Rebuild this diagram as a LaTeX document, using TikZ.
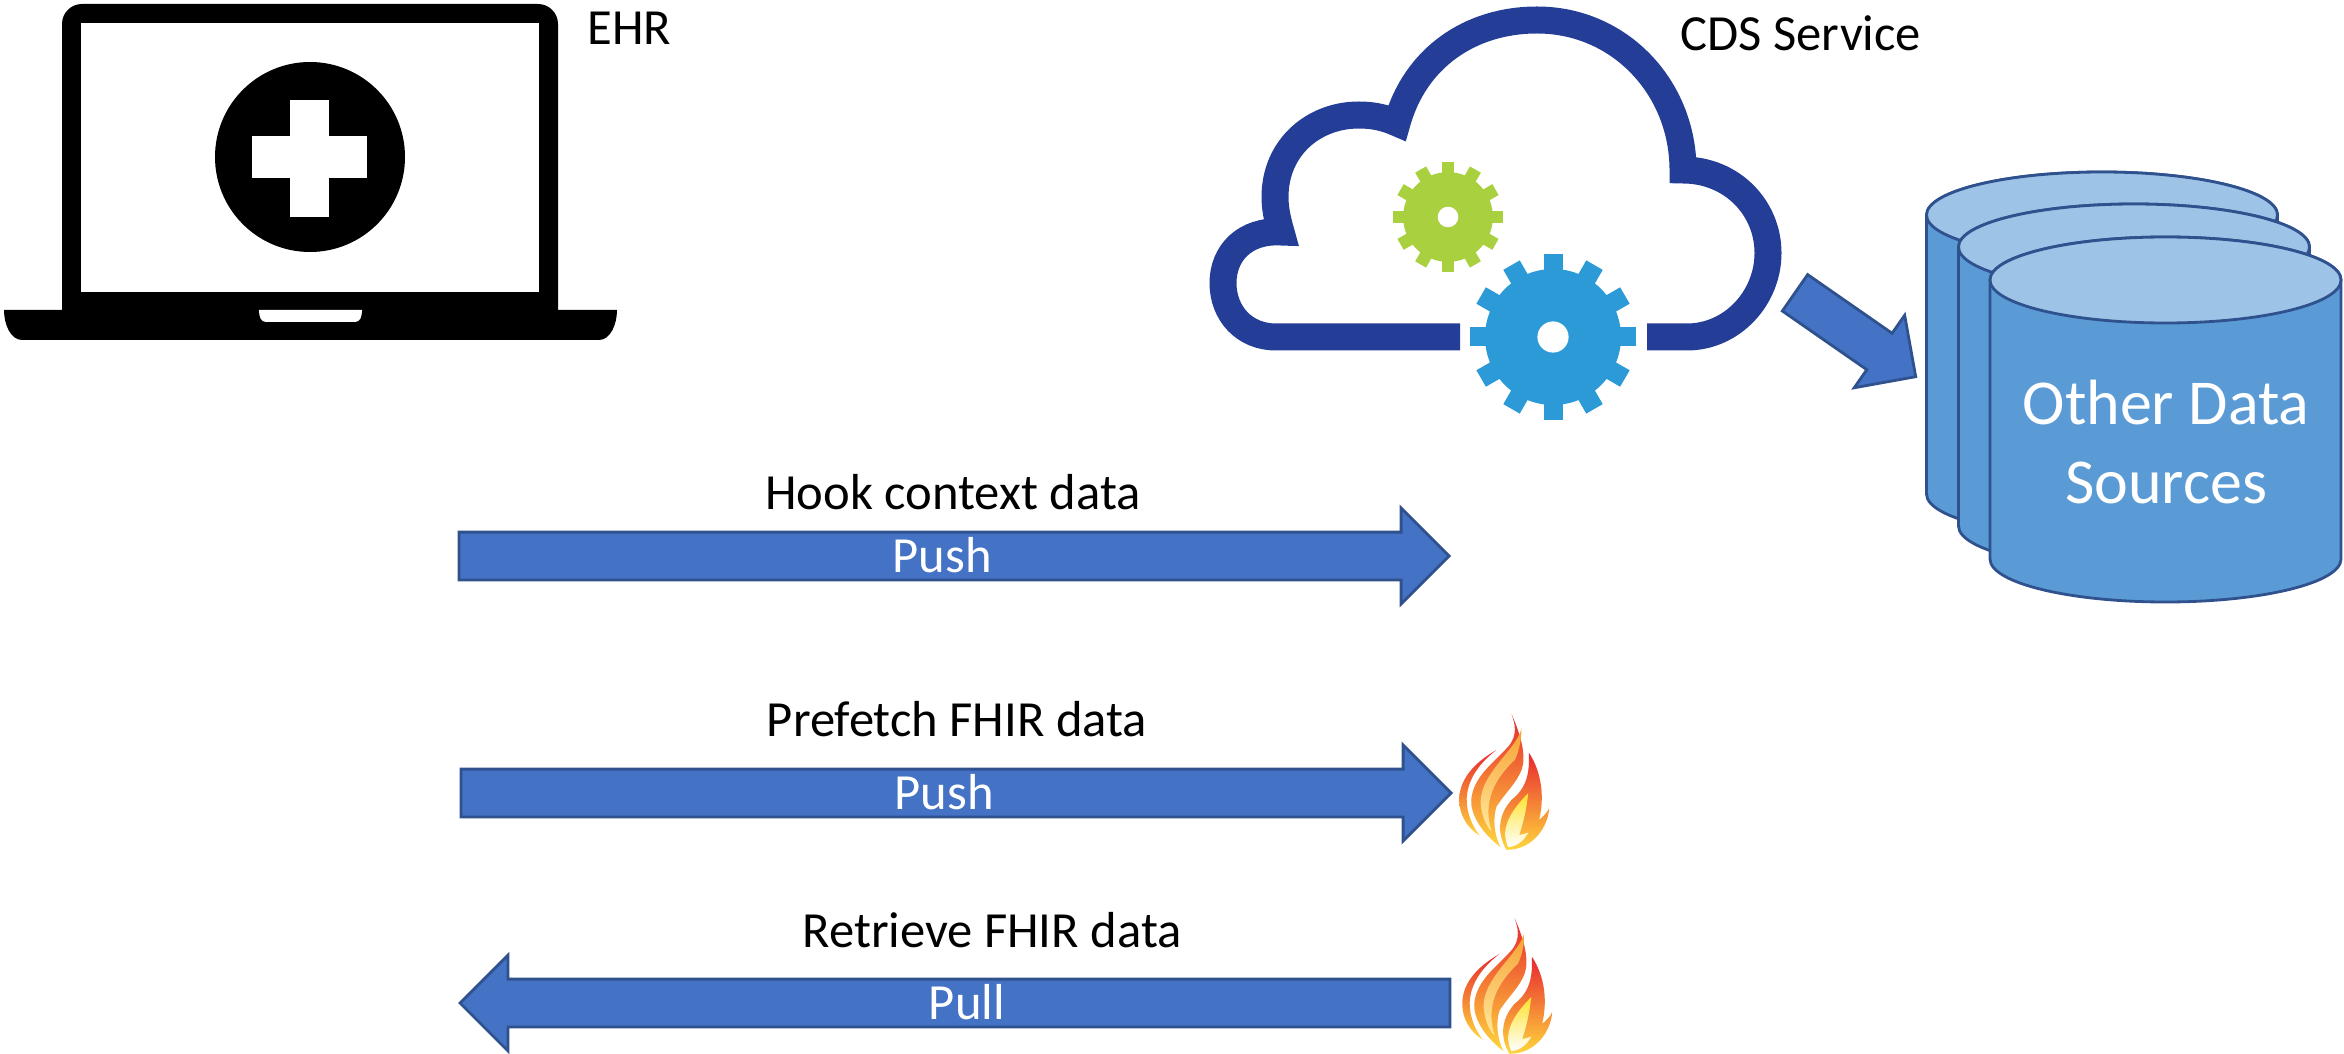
\documentclass[tikz,border=0pt]{standalone}
\usepackage{xcolor}
\usepackage{fontspec}
\usetikzlibrary{shapes.arrows}
\setmainfont{Carlito}
\definecolor{arrowblue}{RGB}{68, 114, 196}
\definecolor{arrowline}{RGB}{47, 82, 143}
\definecolor{storebody}{RGB}{91, 155, 213}
\definecolor{storetop}{RGB}{157, 195, 230}
\definecolor{cloudblue}{RGB}{36, 61, 150}
\definecolor{gearblue}{RGB}{45, 154, 216}
\definecolor{geargreen}{RGB}{169, 208, 63}
\definecolor{flamered}{RGB}{232, 38, 47}
\definecolor{flameorange}{RGB}{247, 160, 50}
\definecolor{flameyellow}{RGB}{255, 214, 60}
\tikzset{
  flowlabel/.style={font=\fontsize{14.4}{17}\selectfont},
  flowarrow/.style={single arrow, draw=arrowline, fill=arrowblue, line width=.8pt,
    single arrow head extend=.24cm, inner xsep=0pt, inner ysep=.02cm, anchor=tip,
    text height=.37cm, text depth=.04cm, outer sep=0pt,
    text=white, font=\fontsize{14.4}{17}\selectfont},
  datastore/.pic={
    \filldraw[fill=storebody, draw=arrowline, line width=.8pt] (-1.755,0) -- (-1.755,-2.79)
      arc[start angle=180, end angle=360, x radius=1.755, y radius=.43] -- (1.755,0)
      arc[start angle=0, end angle=180, x radius=1.755, y radius=.43] -- cycle;
    \filldraw[fill=storetop, draw=arrowline, line width=.8pt] (0,0) ellipse (1.755 and .43);
  },
  gearwheel/.pic={
    \fill (0,0) circle (.68);
    \foreach \a in {0,30,...,330}
      \fill[rotate=\a] (-.095,.5) rectangle (.095,.83);
    \fill[white] (0,0) circle (.156);
  },
  flame/.pic={
    \begin{scope}[x=.0333mm, y=-.0333mm]
      \shade[top color=flamered, middle color=flameorange, bottom color=flameyellow]
        (350,150) .. controls (280,190) and (238,240) .. (238,300)
        .. controls (238,345) and (262,385) .. (300,408)
        .. controls (270,370) and (255,320) .. (262,280)
        .. controls (270,225) and (310,180) .. (350,150) -- cycle;
      \shade[top color=flamered, middle color=flameorange, bottom color=flameyellow]
        (395,42) .. controls (425,110) and (440,170) .. (425,210)
        .. controls (410,250) and (375,280) .. (350,320)
        .. controls (340,350) and (340,400) .. (362,442)
        .. controls (300,395) and (272,340) .. (274,300)
        .. controls (280,230) and (340,190) .. (385,140)
        .. controls (415,105) and (405,70) .. (395,42) -- cycle;
      \shade[top color=flameorange, middle color=yellow!90!orange, bottom color=flameyellow!50!white]
        (425,85) .. controls (410,150) and (300,220) .. (302,310)
        .. controls (305,350) and (320,380) .. (335,395)
        .. controls (312,320) and (330,250) .. (405,180)
        .. controls (420,150) and (425,110) .. (425,85) -- cycle;
      \shade[top color=flamered, middle color=flameorange, bottom color=flameyellow]
        (447,158) .. controls (485,215) and (495,290) .. (478,360)
        .. controls (490,350) and (505,335) .. (508,325)
        .. controls (505,380) and (460,450) .. (380,450)
        .. controls (350,400) and (355,345) .. (395,300)
        .. controls (440,265) and (450,220) .. (447,158) -- cycle;
      \shade[top color=flameyellow!70!yellow, bottom color=white]
        (445,280) .. controls (440,330) and (430,370) .. (418,405)
        .. controls (425,405) and (440,400) .. (446,398)
        .. controls (430,425) and (410,440) .. (385,442)
        .. controls (365,400) and (375,350) .. (445,280) -- cycle;
    \end{scope}
  }
}

\begin{document}
\begin{tikzpicture}
  \useasboundingbox (0,0) rectangle (23.44,10.53);

  % laptop
  \fill[black, rounded corners=.2cm] (.62,7.2) rectangle (5.58,10.49);
  \fill[black] (.04,7.43) -- (6.17,7.43) .. controls (6.17,7.28) and (6.10,7.13) .. (5.99,7.13)
    -- (.22,7.13) .. controls (.11,7.13) and (.04,7.28) .. (.04,7.43) -- cycle;
  \fill[white] (.81,7.61) rectangle (5.39,10.30);
  \fill[white] (2.59,7.43) -- (3.62,7.43) .. controls (3.62,7.36) and (3.60,7.31) .. (3.55,7.31)
    -- (2.66,7.31) .. controls (2.61,7.31) and (2.59,7.36) .. (2.59,7.43) -- cycle;
  \fill[black] (3.10,8.96) circle (.95);
  \fill[white] (2.52,8.75) rectangle (3.67,9.17);
  \fill[white] (2.90,8.36) rectangle (3.29,9.53);
  \node[flowlabel, anchor=west, inner sep=0pt] (ehrlabel) at (5.87,10.25) {EHR};

  % cloud
  \draw[cloudblue, line width=.27cm, miter limit=10] (14.60,7.16) -- (12.76,7.16)
    .. controls (12.44,7.16) and (12.23,7.40) .. (12.23,7.70)
    .. controls (12.23,8.0) and (12.45,8.23) .. (12.81,8.21)
    .. controls (12.77,8.35) and (12.75,8.45) .. (12.75,8.56)
    .. controls (12.75,9.05) and (13.13,9.38) .. (13.59,9.38)
    .. controls (13.74,9.38) and (13.86,9.35) .. (13.97,9.30)
    .. controls (14.15,9.95) and (14.70,10.33) .. (15.37,10.33)
    .. controls (16.20,10.33) and (16.83,9.65) .. (16.83,8.83)
    .. controls (17.32,8.83) and (17.68,8.45) .. (17.68,8.0)
    .. controls (17.68,7.55) and (17.32,7.16) .. (16.87,7.16)
    -- (16.47,7.16);
  \pic[fill=geargreen, scale=.66] (greengear) at (14.48,8.36) {gearwheel};
  \pic[fill=gearblue] (bluegear) at (15.53,7.16) {gearwheel};
  \node[flowlabel, anchor=west, inner sep=0pt] (cdslabel) at (16.80,10.20) {CDS Service};

  % data sources
  \pic (backstore) at (21.02,8.38) {datastore};
  \pic (midstore) at (21.34,8.06) {datastore};
  \pic (frontstore) at (21.655,7.73) {datastore};
  \node[text=white, align=center, font=\fontsize{18.2}{22.5}\selectfont] (storelabel) at (21.66,6.11) {Other Data\\Sources};
  \node[flowarrow, rotate=-34.8, text height=.27cm, text depth=.105cm, single arrow head extend=.22cm,
    minimum height=1.47cm] (storearrow) at (19.157,6.763) {};

  % exchanges
  \node[flowlabel] (hooklabel) at (9.53,5.61) {Hook context data};
  \node[flowarrow, minimum height=9.90cm] (hookarrow) at (14.49,4.97) {Push};
  \node[flowlabel] (prefetchlabel) at (9.57,3.34) {Prefetch FHIR data};
  \node[flowarrow, minimum height=9.90cm] (prefetcharrow) at (14.51,2.60) {Push};
  \node[flowlabel] (retrievelabel) at (9.92,1.23) {Retrieve FHIR data};
  \node[flowarrow, shape border rotate=180, minimum height=9.90cm] (retrievearrow) at (4.60,.50) {Pull};

  % flames
  \pic (pushflame) at (13.80,3.53) {flame};
  \pic (pullflame) at (13.83,1.49) {flame};
\end{tikzpicture}
\end{document}
